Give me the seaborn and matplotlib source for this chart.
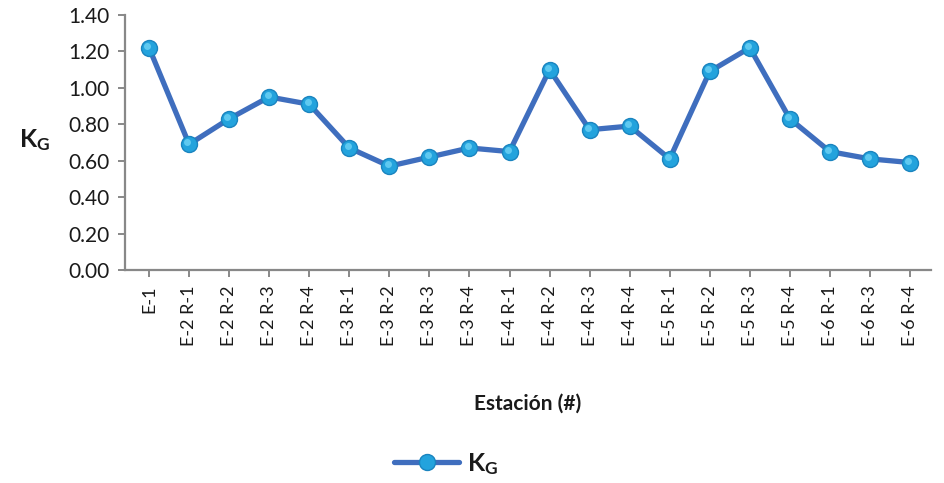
import matplotlib
matplotlib.use("Agg")
import matplotlib.pyplot as plt
import matplotlib.transforms as mtransforms
import seaborn as sns
import pandas as pd
from matplotlib.lines import Line2D

estaciones = ["E-1", "E-2 R-1", "E-2 R-2", "E-2 R-3", "E-2 R-4",
              "E-3 R-1", "E-3 R-2", "E-3 R-3", "E-3 R-4", "E-4 R-1",
              "E-4 R-2", "E-4 R-3", "E-4 R-4", "E-5 R-1", "E-5 R-2",
              "E-5 R-3", "E-5 R-4", "E-6 R-1", "E-6 R-3", "E-6 R-4"]
kg = [1.22, 0.69, 0.83, 0.95, 0.91,
      0.67, 0.57, 0.62, 0.67, 0.65,
      1.10, 0.77, 0.79, 0.61, 1.09,
      1.22, 0.83, 0.65, 0.61, 0.59]
y_ticks = [0.0, 0.2, 0.4, 0.6, 0.8, 1.0, 1.2, 1.4]

sns.set_theme(style="white")
plt.rcParams["font.family"] = ["Lato", "DejaVu Sans"]
plt.rcParams["mathtext.fontset"] = "custom"
plt.rcParams["mathtext.rm"] = "Lato"
plt.rcParams["mathtext.bf"] = "Lato:bold"

line_color = "#3F6EBE"
face_color = "#23A3DD"
edge_color = "#1A84BF"
shine_color = "#6FD3F6"
axis_gray = "#888888"
text_color = "#1a1a1a"

df = pd.DataFrame({"Estación": estaciones, "KG": kg})

fig = plt.figure(figsize=(9.45, 4.83), dpi=100)
ax = fig.add_axes([0.1323, 0.441, 0.8527, 0.528])

sns.lineplot(data=df, x="Estación", y="KG", ax=ax, color=line_color,
             linewidth=3.8, marker="o", markersize=11.5,
             markerfacecolor=face_color, markeredgecolor=edge_color,
             markeredgewidth=1.0, sort=False)

# small glossy highlight on each marker
shine = ax.transData + mtransforms.ScaledTranslation(-1.2 / 72, 1.4 / 72,
                                                     fig.dpi_scale_trans)
ax.plot(range(len(kg)), kg, linestyle="none", marker="o", markersize=5,
        markerfacecolor=shine_color, markeredgewidth=0, alpha=0.8,
        transform=shine)

ax.set_xlim(-0.6, len(estaciones) - 0.48)
ax.set_ylim(0, 1.4)
ax.set_yticks(y_ticks)
ax.set_yticklabels([f"{v:.2f}" for v in y_ticks], fontsize=15, color=text_color)
ax.set_xticks(range(len(estaciones)))
ax.set_xticklabels(estaciones, rotation=90, fontsize=13, color=text_color)

for side in ["top", "right"]:
    ax.spines[side].set_visible(False)
for side in ["left", "bottom"]:
    ax.spines[side].set_color(axis_gray)
    ax.spines[side].set_linewidth(1.6)
ax.tick_params(axis="both", which="both", direction="out", length=5,
               width=1.4, color=axis_gray, left=True, bottom=True, pad=6)

ax.set_xlabel("Estación (#)", fontsize=15, fontweight="bold", labelpad=34,
              color=text_color)
ax.set_ylabel(r"$\mathbf{K_G}$", fontsize=18, rotation=0, labelpad=0,
              color=text_color)
ax.yaxis.set_label_coords(-0.112, 0.46)

handle = Line2D([], [], color=line_color, linewidth=3.8, marker="o",
                markersize=11.5, markerfacecolor=face_color,
                markeredgecolor=edge_color)
leg = fig.legend([handle], [r"$\mathbf{K_G}$"], loc="center",
                 bbox_to_anchor=(0.472, 0.04), frameon=False, fontsize=18,
                 handlelength=2.6, handletextpad=0.3)
for t in leg.get_texts():
    t.set_color(text_color)

fig.savefig("out.png", dpi=100)
